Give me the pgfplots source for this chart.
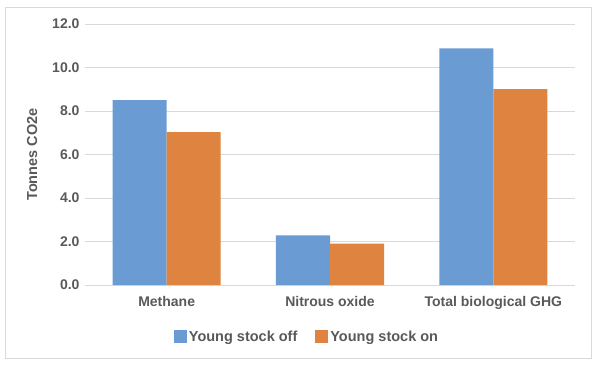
\documentclass[border=0pt]{standalone}
\usepackage{pgfplots}
\pgfplotsset{compat=1.18}
\usepackage{fontspec}
\setmainfont{Liberation Sans}
\definecolor{cblue}{RGB}{106,155,210}
\definecolor{corange}{RGB}{222,131,64}
\definecolor{txt}{RGB}{89,89,89}
\definecolor{grd}{RGB}{217,217,217}
\begin{document}
\begin{tikzpicture}[x=1pt,y=1pt]
\useasboundingbox (0,0) rectangle (600,368);
\draw[grd, line width=1pt] (5,10) rectangle (591,361);
\begin{axis}[
  at={(85pt,83pt)}, anchor=south west,
  scale only axis, width=490pt, height=261pt,
  ybar=0pt, bar width=0.331,
  xmin=-0.5, xmax=2.5, ymin=0, ymax=12,
  ytick={0,2,...,12},
  xtick=data,
  xticklabels={Methane,Nitrous oxide,Total biological GHG},
  axis line style={draw=none},
  tick style={draw=none},
  ymajorgrids, grid style={grd, line width=1pt},
  /pgf/number format/assume math mode=true,
  yticklabel={\pgfmathprintnumber[fixed,fixed zerofill,precision=1]{\tick}},
  ticklabel style={font=\fontsize{14}{16}\selectfont\bfseries, text=txt},
  yticklabel style={xshift=-2pt},
  xticklabel style={yshift=-4pt},
  ylabel={Tonnes CO2e},
  ylabel style={at={(axis description cs:-0.108,0.5)}, anchor=center, font=\fontsize{14.5}{16}\selectfont\bfseries, text=txt},
  legend style={at={(222pt,-52pt)}, anchor=center, draw=none, fill=none,
    legend columns=2, font=\fontsize{14.5}{16}\selectfont\bfseries, text=txt,
    /tikz/every even column/.append style={column sep=16pt}},
  legend image code/.code={\fill[#1] (0pt,-6pt) rectangle (13pt,7pt);},
]
\addplot[fill=cblue, draw=none] coordinates {(0,8.5) (1,2.28) (2,10.88)};
\addplot[fill=corange, draw=none] coordinates {(0,7.03) (1,1.9) (2,9.01)};
\legend{Young stock off, Young stock on}
\end{axis}
\end{tikzpicture}
\end{document}
